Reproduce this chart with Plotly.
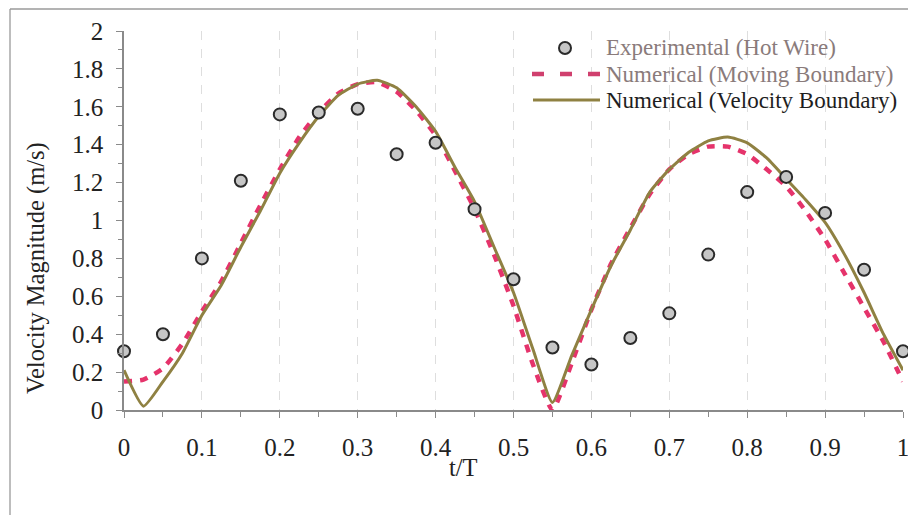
import plotly.graph_objects as go

# ---------------- data ----------------
t_exp = [0, 0.05, 0.1, 0.15, 0.2, 0.25, 0.3, 0.35, 0.4, 0.45, 0.5,
         0.55, 0.6, 0.65, 0.7, 0.75, 0.8, 0.85, 0.9, 0.95, 1.0]
v_exp = [0.31, 0.40, 0.80, 1.21, 1.56, 1.57, 1.59, 1.35, 1.41, 1.06, 0.69,
         0.33, 0.24, 0.38, 0.51, 0.82, 1.15, 1.23, 1.04, 0.74, 0.31]

t_num = [0, 0.025, 0.05, 0.075, 0.1, 0.125, 0.15, 0.175, 0.2, 0.225,
         0.25, 0.275, 0.3, 0.325, 0.35, 0.375, 0.4, 0.425, 0.45, 0.475,
         0.5, 0.525, 0.55, 0.575, 0.6, 0.625, 0.65, 0.675, 0.7, 0.725,
         0.75, 0.775, 0.8, 0.825, 0.85, 0.875, 0.9, 0.925, 0.95, 0.975, 1.0]
v_moving = [0.15, 0.16, 0.22, 0.35, 0.52, 0.68, 0.88, 1.08, 1.27, 1.44,
            1.57, 1.67, 1.72, 1.73, 1.68, 1.58, 1.45, 1.26, 1.06, 0.82,
            0.55, 0.24, 0.00, 0.25, 0.53, 0.77, 0.96, 1.14, 1.27, 1.35,
            1.39, 1.39, 1.35, 1.27, 1.18, 1.05, 0.90, 0.72, 0.54, 0.36, 0.15]
v_velocity = [0.21, 0.02, 0.15, 0.30, 0.50, 0.66, 0.86, 1.05, 1.25, 1.41,
              1.55, 1.66, 1.72, 1.74, 1.70, 1.60, 1.47, 1.28, 1.10, 0.86,
              0.62, 0.32, 0.04, 0.29, 0.53, 0.76, 0.95, 1.15, 1.27, 1.36,
              1.42, 1.44, 1.41, 1.33, 1.22, 1.11, 0.99, 0.82, 0.62, 0.40, 0.21]

x_ticks = [0, 0.1, 0.2, 0.3, 0.4, 0.5, 0.6, 0.7, 0.8, 0.9, 1]
x_ticklabels = ["0", "0.1", "0.2", "0.3", "0.4", "0.5", "0.6", "0.7", "0.8", "0.9", "1"]
y_ticks = [0, 0.2, 0.4, 0.6, 0.8, 1, 1.2, 1.4, 1.6, 1.8, 2]
y_ticklabels = ["0", "0.2", "0.4", "0.6", "0.8", "1", "1.2", "1.4", "1.6", "1.8", "2"]

names = ["Experimental (Hot Wire)", "Numerical (Moving Boundary)",
         "Numerical (Velocity Boundary)"]
x_title = "t/T"
y_title = "Velocity Magnitude (m/s)"

# ---------------- style ----------------
FONT = "Liberation Serif, Times New Roman, serif"
FS = 23
FS_TICK = 25
FS_TITLE = 24.5
PINK = "#e5336b"
OLIVE = "#8f8142"
W, H = 908, 515
L, R, T, B = 124, 5, 31, 105
PW, PH = W - L - R, H - T - B


def px(x):  # pixel x -> paper
    return (x - L) / PW


def py(y):  # pixel y -> paper
    return (H - B - y) / PH


fig = go.Figure()
fig.add_trace(go.Scatter(x=t_num, y=v_moving, mode="lines", name=names[1],
                         line=dict(color=PINK, width=4.5, dash="8px,8px",
                                   shape="spline", smoothing=0.5),
                         showlegend=False, cliponaxis=False))
fig.add_trace(go.Scatter(x=t_num, y=v_velocity, mode="lines", name=names[2],
                         line=dict(color=OLIVE, width=3, shape="spline",
                                   smoothing=0.5),
                         showlegend=False, cliponaxis=False))
fig.add_trace(go.Scatter(x=t_exp, y=v_exp, mode="markers", name=names[0],
                         marker=dict(symbol="circle", size=12, color="#c6c6c6",
                                     line=dict(color="#2a2a2a", width=2)),
                         showlegend=False, cliponaxis=False))

shapes = [
    # chart-area border (left and top)
    dict(type="line", xref="paper", yref="paper", x0=px(10), x1=px(10),
         y0=py(9), y1=py(530), line=dict(color="#9a9a9a", width=1.3)),
    dict(type="line", xref="paper", yref="paper", x0=px(10), x1=px(920),
         y0=py(9), y1=py(9), line=dict(color="#9a9a9a", width=1.3)),
    # legend samples
    dict(type="circle", xref="paper", yref="paper", xsizemode="pixel",
         ysizemode="pixel", xanchor=px(565), yanchor=py(48),
         x0=-6, x1=6, y0=-6, y1=6, fillcolor="#c6c6c6",
         line=dict(color="#2a2a2a", width=2)),
    dict(type="line", xref="paper", yref="paper", x0=px(532), x1=px(600),
         y0=py(74), y1=py(74), line=dict(color="#d0406e", width=4.5,
                                         dash="12px,16px")),
    dict(type="line", xref="paper", yref="paper", x0=px(533), x1=px(600),
         y0=py(100), y1=py(100), line=dict(color=OLIVE, width=3)),
]

legend_colors = ["#8a7b7b", "#8a7b7b", "#1e1e1e"]
legend_y = [48, 74, 100]
annotations = []
for nm, c, yy in zip(names, legend_colors, legend_y):
    annotations.append(dict(text=nm, xref="paper", yref="paper", x=px(604),
                            y=py(yy), xanchor="left", yanchor="middle",
                            showarrow=False,
                            font=dict(family=FONT, size=FS, color=c)))
annotations.append(dict(text=x_title, xref="paper", yref="paper", x=px(463),
                        y=py(467), xanchor="center", yanchor="middle",
                        showarrow=False,
                        font=dict(family=FONT, size=FS_TITLE, color="#222")))
annotations.append(dict(text=y_title, xref="paper", yref="paper", x=px(36),
                        y=py(268), xanchor="center", yanchor="middle",
                        textangle=-90, showarrow=False,
                        font=dict(family=FONT, size=FS_TITLE, color="#222")))

fig.update_layout(
    width=W, height=H,
    margin=dict(l=L, r=R, t=T, b=B, autoexpand=False),
    paper_bgcolor="white", plot_bgcolor="white",
    font=dict(family=FONT, size=FS, color="#222"),
    shapes=shapes, annotations=annotations,
    showlegend=False,
)
fig.update_xaxes(range=[0, 1], tickmode="array", tickvals=x_ticks,
                 ticktext=x_ticklabels, tickfont=dict(size=FS_TICK),
                 ticklabeloverflow="allow", automargin=False,
                 showline=True, linecolor="#8a8a8a", linewidth=1.5,
                 ticks="outside", ticklen=6, tickcolor="#8a8a8a",
                 ticklabelstandoff=8,
                 showgrid=True, gridcolor="#dedede", griddash="dash",
                 gridwidth=1, zeroline=False,
                 minor=dict(dtick=0.05, tick0=0, ticks="outside", ticklen=5,
                            tickcolor="#8a8a8a", showgrid=False))
fig.update_yaxes(range=[0, 2], tickmode="array", tickvals=y_ticks,
                 ticktext=y_ticklabels, tickfont=dict(size=FS_TICK),
                 ticklabeloverflow="allow", automargin=False,
                 showline=True, linecolor="#8a8a8a", linewidth=1.5,
                 ticks="outside", ticklen=6, tickcolor="#8a8a8a",
                 ticklabelstandoff=8,
                 showgrid=False, zeroline=False,
                 minor=dict(dtick=0.1, tick0=0, ticks="outside", ticklen=4,
                            tickcolor="#8a8a8a"))

fig.write_html("out.html")
